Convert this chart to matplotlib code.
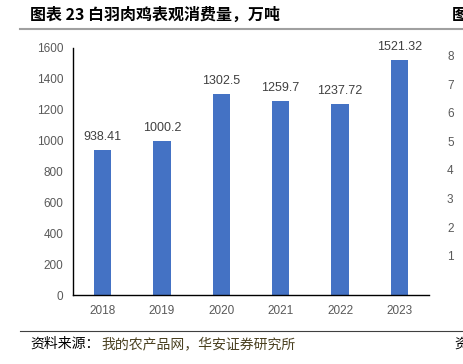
import numpy as np
import matplotlib.pyplot as plt

plt.rcParams['font.family'] = ['Noto Sans CJK SC', 'DejaVu Sans']

years = ['2018', '2019', '2020', '2021', '2022', '2023']
consumption = [938.41, 1000.2, 1302.5, 1259.7, 1237.72, 1521.32]
labels = ['938.41', '1000.2', '1302.5', '1259.7', '1237.72', '1521.32']
yticks = [0, 200, 400, 600, 800, 1000, 1200, 1400, 1600]
# clipped tick labels of the neighbouring chart on the right edge
side_ticks = ['8', '7', '6', '5', '4', '3', '2', '1']

W, H = 463, 364
fig = plt.figure(figsize=(W / 100, H / 100), dpi=100)

ax = fig.add_axes([73 / W, 1 - 295 / H, 356 / W, 247 / H])
x = np.arange(len(years))
ax.bar(x, consumption, width=0.29, color='#4472c4')
for xi, v, s in zip(x, consumption, labels):
    ax.text(xi, v + 45, s, ha='center', va='bottom', fontsize=9,
            color='#404040', family=['Liberation Sans', 'DejaVu Sans'])

ax.set_xlim(-0.5, len(years) - 0.5)
ax.set_ylim(0, 1600)
ax.set_yticks(yticks)
ax.set_xticks(x)
ax.set_xticklabels(years)
ax.tick_params(length=0, labelsize=8.5, labelcolor='#595959')
ax.tick_params(axis='y', pad=7)
ax.tick_params(axis='x', pad=7)
for t in ax.get_xticklabels() + ax.get_yticklabels():
    t.set_family(['Liberation Sans', 'DejaVu Sans'])
for sp in ['top', 'right']:
    ax.spines[sp].set_visible(False)
ax.spines['left'].set_color('#000000')
ax.spines['bottom'].set_color('#000000')
ax.spines['left'].set_linewidth(1.0)
ax.spines['bottom'].set_linewidth(1.0)

# header and footer
fig.text(30 / W, 1 - 15 / H, '图表 23 白羽肉鸡表观消费量，万吨', fontsize=11.5,
         fontweight='bold', va='center', ha='left')
fig.add_artist(plt.Line2D([20 / W, 1], [1 - 29 / H] * 2, color='#a0a0a0', lw=1.5))
fig.add_artist(plt.Line2D([20 / W, 1], [1 - 331 / H] * 2, color='#404040', lw=0.8))
fig.text(30 / W, 1 - 344 / H, '资料来源：', fontsize=10, va='center', ha='left')
fig.text(101 / W, 1 - 344 / H, '我的农产品网，华安证券研究所', fontsize=10,
         va='center', ha='left', color='#4a4020')

# fragment of next chart
fig.text(452 / W, 1 - 15 / H, '图', fontsize=11.5, fontweight='bold', va='center', ha='left')
fig.text(454 / W, 1 - 344 / H, '资', fontsize=10, va='center', ha='left')
for i, s in enumerate(side_ticks):
    fig.text(447 / W, 1 - (57 + i * 28.6) / H, s, fontsize=8.5, color='#595959',
             va='center', ha='left', family=['Liberation Sans', 'DejaVu Sans'])

fig.savefig('out.png', dpi=100)
